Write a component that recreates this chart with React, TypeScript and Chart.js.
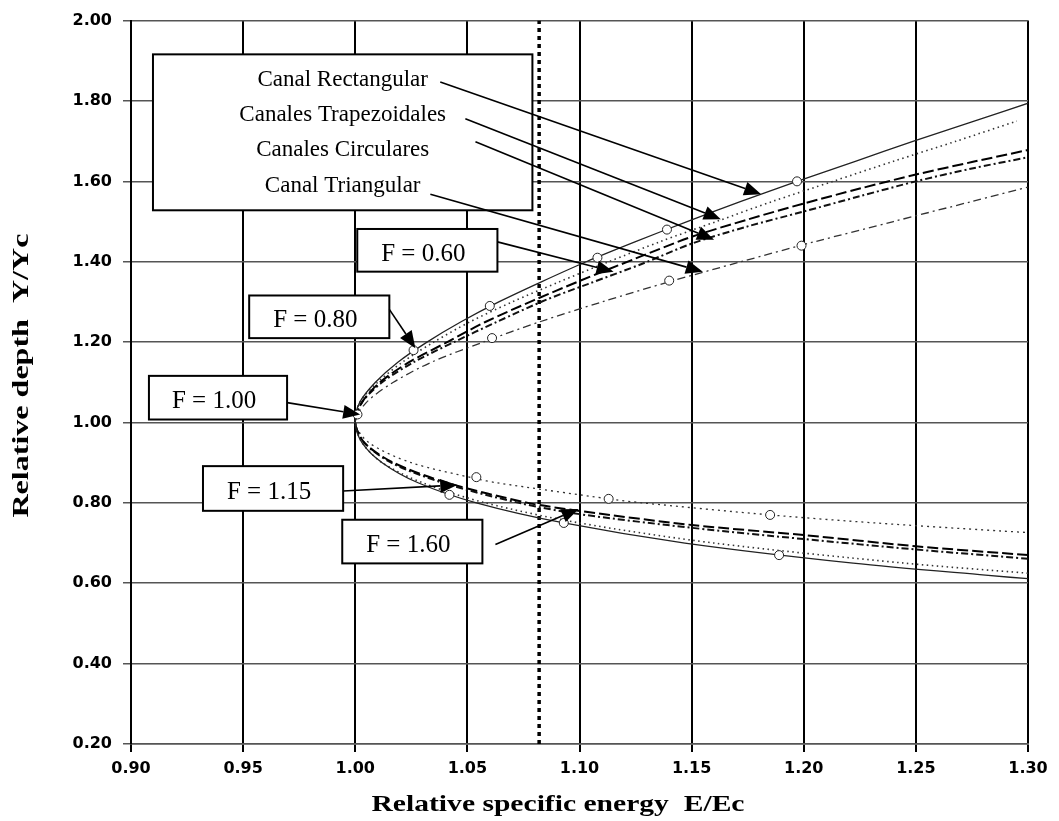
import React, { useEffect, useRef } from "react";
import { Chart, registerables } from "chart.js";

Chart.register(...registerables);

// ---------- axes ----------
const xTickValues = [0.9, 0.95, 1.0, 1.05, 1.1, 1.15, 1.2, 1.25, 1.3];
const yTickValues = [0.2, 0.4, 0.6, 0.8, 1.0, 1.2, 1.4, 1.6, 1.8, 2.0];
const xAxisTitle = "Relative specific energy  E/Ec";
const yAxisTitle = "Relative depth  Y/Yc";

// ---------- curves (E/Ec, Y/Yc) ----------
const rectangularCurve = [
  { x: 1.303, y: 0.61 }, { x: 1.281, y: 0.62 }, { x: 1.222, y: 0.65 }, { x: 1.147, y: 0.7 },
  { x: 1.093, y: 0.75 }, { x: 1.054, y: 0.8 }, { x: 1.028, y: 0.85 }, { x: 1.012, y: 0.9 },
  { x: 1.003, y: 0.95 }, { x: 1.0, y: 1.0 }, { x: 1.002, y: 1.05 }, { x: 1.009, y: 1.1 },
  { x: 1.019, y: 1.15 }, { x: 1.032, y: 1.2 }, { x: 1.047, y: 1.25 }, { x: 1.064, y: 1.3 },
  { x: 1.083, y: 1.35 }, { x: 1.103, y: 1.4 }, { x: 1.125, y: 1.45 }, { x: 1.148, y: 1.5 },
  { x: 1.172, y: 1.55 }, { x: 1.197, y: 1.6 }, { x: 1.223, y: 1.65 }, { x: 1.249, y: 1.7 },
  { x: 1.276, y: 1.75 }, { x: 1.303, y: 1.8 },
];
const rectangularMarkers = [
  { x: 1.197, y: 1.6 }, { x: 1.139, y: 1.48 }, { x: 1.108, y: 1.41 }, { x: 1.06, y: 1.29 },
  { x: 1.026, y: 1.18 }, { x: 1.001, y: 1.02 }, { x: 1.042, y: 0.82 }, { x: 1.093, y: 0.75 },
  { x: 1.189, y: 0.67 },
];
const trapezoidalCurve = [
  { x: 1.3, y: 0.625 }, { x: 1.245, y: 0.65 }, { x: 1.16, y: 0.7 }, { x: 1.1, y: 0.75 },
  { x: 1.058, y: 0.8 }, { x: 1.03, y: 0.85 }, { x: 1.012, y: 0.9 }, { x: 1.003, y: 0.95 },
  { x: 1.0, y: 1.0 }, { x: 1.002, y: 1.05 }, { x: 1.01, y: 1.1 }, { x: 1.021, y: 1.15 },
  { x: 1.035, y: 1.2 }, { x: 1.051, y: 1.25 }, { x: 1.07, y: 1.3 }, { x: 1.091, y: 1.35 },
  { x: 1.113, y: 1.4 }, { x: 1.136, y: 1.45 }, { x: 1.161, y: 1.5 }, { x: 1.186, y: 1.55 },
  { x: 1.213, y: 1.6 }, { x: 1.24, y: 1.65 }, { x: 1.268, y: 1.7 }, { x: 1.295, y: 1.75 },
];
const circularCurveA = [
  { x: 1.3, y: 0.67 }, { x: 1.25, y: 0.692 }, { x: 1.2, y: 0.72 }, { x: 1.15, y: 0.745 },
  { x: 1.1, y: 0.78 }, { x: 1.077, y: 0.8 }, { x: 1.041, y: 0.85 }, { x: 1.017, y: 0.9 },
  { x: 1.004, y: 0.95 }, { x: 1.0, y: 1.0 }, { x: 1.003, y: 1.05 }, { x: 1.011, y: 1.1 },
  { x: 1.024, y: 1.15 }, { x: 1.041, y: 1.2 }, { x: 1.058, y: 1.25 }, { x: 1.08, y: 1.305 },
  { x: 1.1, y: 1.352 }, { x: 1.125, y: 1.408 }, { x: 1.15, y: 1.462 }, { x: 1.175, y: 1.505 },
  { x: 1.2, y: 1.545 }, { x: 1.225, y: 1.582 }, { x: 1.25, y: 1.617 }, { x: 1.275, y: 1.648 },
  { x: 1.3, y: 1.678 },
];
const circularCurveB = [
  { x: 1.3, y: 0.661 }, { x: 1.25, y: 0.684 }, { x: 1.2, y: 0.71 }, { x: 1.15, y: 0.738 },
  { x: 1.1, y: 0.772 }, { x: 1.073, y: 0.8 }, { x: 1.039, y: 0.85 }, { x: 1.016, y: 0.9 },
  { x: 1.004, y: 0.95 }, { x: 1.0, y: 1.0 }, { x: 1.003, y: 1.05 }, { x: 1.012, y: 1.1 },
  { x: 1.026, y: 1.15 }, { x: 1.044, y: 1.2 }, { x: 1.063, y: 1.25 }, { x: 1.085, y: 1.305 },
  { x: 1.104, y: 1.345 }, { x: 1.128, y: 1.395 }, { x: 1.15, y: 1.445 }, { x: 1.175, y: 1.488 },
  { x: 1.2, y: 1.525 }, { x: 1.225, y: 1.563 }, { x: 1.25, y: 1.6 }, { x: 1.275, y: 1.632 },
  { x: 1.3, y: 1.66 },
];
const triangularCurve = [
  { x: 1.304, y: 0.725 }, { x: 1.288, y: 0.73 }, { x: 1.232, y: 0.75 }, { x: 1.185, y: 0.77 },
  { x: 1.128, y: 0.8 }, { x: 1.113, y: 0.81 }, { x: 1.063, y: 0.85 }, { x: 1.054, y: 0.86 },
  { x: 1.025, y: 0.9 }, { x: 1.006, y: 0.95 }, { x: 1.0, y: 1.0 }, { x: 1.005, y: 1.05 },
  { x: 1.017, y: 1.1 }, { x: 1.034, y: 1.15 }, { x: 1.057, y: 1.2 }, { x: 1.082, y: 1.25 },
  { x: 1.11, y: 1.3 }, { x: 1.14, y: 1.35 }, { x: 1.172, y: 1.4 }, { x: 1.205, y: 1.45 },
  { x: 1.24, y: 1.5 }, { x: 1.275, y: 1.55 }, { x: 1.303, y: 1.59 },
];
const triangularMarkers = [
  { x: 1.199, y: 1.44 }, { x: 1.14, y: 1.353 }, { x: 1.061, y: 1.21 }, { x: 1.054, y: 0.864 },
  { x: 1.113, y: 0.81 }, { x: 1.185, y: 0.77 },
];
const referenceLineX = 1.082;

// ---------- legend box (data coordinates) ----------
const legendLabels = ["Canal Rectangular", "Canales Trapezoidales", "Canales Circulares", "Canal Triangular"];
const legendRowY = [1.852, 1.765, 1.677, 1.588];
const legendArrowStarts = [
  { x: 1.0379, y: 1.847 }, { x: 1.0491, y: 1.7556 }, { x: 1.0536, y: 1.6988 }, { x: 1.0335, y: 1.568 },
];
const legendArrowTips = [
  { x: 1.181, y: 1.568 }, { x: 1.163, y: 1.506 }, { x: 1.16, y: 1.455 }, { x: 1.155, y: 1.375 },
];

// ---------- Froude number call-outs (data coordinates) ----------
const froudeLabels = ["F = 0.60", "F = 0.80", "F = 1.00", "F = 1.15", "F = 1.60"];
const froudeBoxX1 = [1.0009, 0.9527, 0.908, 0.9321, 0.9942];
const froudeBoxX2 = [1.0634, 1.0152, 0.9696, 0.9946, 1.0567];
const froudeBoxYTop = [1.4815, 1.316, 1.116, 0.8914, 0.758];
const froudeBoxYBottom = [1.3753, 1.2099, 1.0074, 0.7802, 0.6494];
const froudeArrowStarts = [
  { x: 1.0634, y: 1.4494 }, { x: 1.0152, y: 1.2815 }, { x: 0.9696, y: 1.0494 },
  { x: 0.9946, y: 0.8296 }, { x: 1.0625, y: 0.6963 },
];
const froudeArrowTips = [
  { x: 1.1152, y: 1.3753 }, { x: 1.0268, y: 1.185 }, { x: 1.0022, y: 1.0198 },
  { x: 1.0455, y: 0.8444 }, { x: 1.0996, y: 0.785 },
];
const legendBoxCorners = [{ x: 0.9098, y: 1.916 }, { x: 1.079, y: 1.528 }];

function drawArrow(ctx: CanvasRenderingContext2D, x0: number, y0: number, x1: number, y1: number) {
  const ang = Math.atan2(y1 - y0, x1 - x0);
  const len = 17;
  const half = 7;
  const bx = x1 - Math.cos(ang) * len;
  const by = y1 - Math.sin(ang) * len;
  ctx.save();
  ctx.strokeStyle = "#000";
  ctx.lineWidth = 1.6;
  ctx.beginPath();
  ctx.moveTo(x0, y0);
  ctx.lineTo(bx, by);
  ctx.stroke();
  ctx.fillStyle = "#000";
  ctx.beginPath();
  ctx.moveTo(x1, y1);
  ctx.lineTo(bx - Math.sin(ang) * half, by + Math.cos(ang) * half);
  ctx.lineTo(bx + Math.sin(ang) * half, by - Math.cos(ang) * half);
  ctx.closePath();
  ctx.fill();
  ctx.restore();
}

function drawStretchedText(
  ctx: CanvasRenderingContext2D, text: string, cx: number, cy: number, targetWidth: number, rotate: boolean
) {
  ctx.save();
  ctx.translate(cx, cy);
  if (rotate) ctx.rotate(-Math.PI / 2);
  const w = ctx.measureText(text).width;
  ctx.scale(targetWidth / w, 1);
  ctx.textAlign = "center";
  ctx.textBaseline = "middle";
  ctx.fillText(text, 0, 0);
  ctx.restore();
}

const annotationPlugin = {
  id: "annotations",
  afterDatasetsDraw(chart: any) {
    const ctx: CanvasRenderingContext2D = chart.ctx;
    const xs = chart.scales.x;
    const ys = chart.scales.y;
    const px = (v: number) => xs.getPixelForValue(v);
    const py = (v: number) => ys.getPixelForValue(v);

    // legend box
    const lx1 = px(legendBoxCorners[0].x);
    const ly1 = py(legendBoxCorners[0].y);
    const lx2 = px(legendBoxCorners[1].x);
    const ly2 = py(legendBoxCorners[1].y);
    ctx.save();
    ctx.fillStyle = "#fff";
    ctx.fillRect(lx1, ly1, lx2 - lx1, ly2 - ly1);
    ctx.strokeStyle = "#000";
    ctx.lineWidth = 2;
    ctx.strokeRect(lx1, ly1, lx2 - lx1, ly2 - ly1);
    ctx.fillStyle = "#000";
    ctx.font = "23px 'Liberation Serif', 'Times New Roman', serif";
    ctx.textAlign = "center";
    ctx.textBaseline = "middle";
    legendLabels.forEach((t, i) => ctx.fillText(t, (lx1 + lx2) / 2, py(legendRowY[i])));
    ctx.restore();
    legendLabels.forEach((_, i) => {
      drawArrow(ctx, px(legendArrowStarts[i].x), py(legendArrowStarts[i].y), px(legendArrowTips[i].x), py(legendArrowTips[i].y));
    });

    // Froude boxes
    froudeLabels.forEach((t, i) => {
      const x1 = px(froudeBoxX1[i]);
      const x2 = px(froudeBoxX2[i]);
      const y1 = py(froudeBoxYTop[i]);
      const y2 = py(froudeBoxYBottom[i]);
      ctx.save();
      ctx.fillStyle = "#fff";
      ctx.fillRect(x1, y1, x2 - x1, y2 - y1);
      ctx.strokeStyle = "#000";
      ctx.lineWidth = 2;
      ctx.strokeRect(x1, y1, x2 - x1, y2 - y1);
      ctx.fillStyle = "#000";
      ctx.font = "25px 'Liberation Serif', 'Times New Roman', serif";
      ctx.textAlign = "center";
      ctx.textBaseline = "middle";
      ctx.fillText(t, (x1 + x2) / 2 - 4, (y1 + y2) / 2 + 4);
      ctx.restore();
      drawArrow(ctx, px(froudeArrowStarts[i].x), py(froudeArrowStarts[i].y), px(froudeArrowTips[i].x), py(froudeArrowTips[i].y));
    });

    // axis titles
    const area = chart.chartArea;
    ctx.save();
    ctx.fillStyle = "#000";
    ctx.font = "bold 24px 'Liberation Serif', 'Times New Roman', serif";
    drawStretchedText(ctx, xAxisTitle, area.left + 427, area.bottom + 61, 373, false);
    drawStretchedText(ctx, yAxisTitle, 22, area.top + 355, 284, true);
    ctx.restore();
  },
};

export default function App() {
  const canvasRef = useRef<HTMLCanvasElement | null>(null);

  useEffect(() => {
    if (!canvasRef.current) return;
    const curveBase = { showLine: true, pointRadius: 0, tension: 0.3, fill: false };
    const markerBase = {
      showLine: false,
      pointRadius: 4.5,
      pointStyle: "circle",
      pointBackgroundColor: "#fff",
      pointBorderColor: "#222",
      pointBorderWidth: 1,
    };
    const tickFont = { family: "'DejaVu Sans', sans-serif", weight: "bold", size: 16 };
    const chart = new Chart(canvasRef.current, {
      type: "scatter",
      data: {
        datasets: [
          { label: "Rect markers", data: rectangularMarkers, ...markerBase } as any,
          { label: "Tri markers", data: triangularMarkers, ...markerBase } as any,
          {
            label: "Canal Rectangular", data: rectangularCurve, ...curveBase,
            borderColor: "#222", borderWidth: 1.3,
          },
          {
            label: "Canales Trapezoidales", data: trapezoidalCurve, ...curveBase,
            borderColor: "#333", borderWidth: 1.6, borderDash: [1.5, 3.5],
          },
          {
            label: "Canales Circulares A", data: circularCurveA, ...curveBase,
            borderColor: "#000", borderWidth: 2, borderDash: [11, 4],
          },
          {
            label: "Canales Circulares B", data: circularCurveB, ...curveBase,
            borderColor: "#111", borderWidth: 2, borderDash: [7, 3, 2, 3],
          },
          {
            label: "Canal Triangular", data: triangularCurve, ...curveBase,
            borderColor: "#333", borderWidth: 1.3,
            segment: {
              borderDash: (c: any) => (c.p0.parsed.y < 1 ? [2, 4] : [8, 4, 2, 4]),
            },
          } as any,
          {
            label: "Reference", data: [{ x: referenceLineX, y: 0.2 }, { x: referenceLineX, y: 2.0 }],
            showLine: true, pointRadius: 0, borderColor: "#000", borderWidth: 3.5, borderDash: [4, 4],
          },
        ],
      },
      options: {
        responsive: false,
        animation: false,
        layout: { padding: { top: 15, right: 31, left: 0, bottom: 0 } },
        plugins: { legend: { display: false }, tooltip: { enabled: false } },
        scales: {
          x: {
            type: "linear",
            min: 0.9,
            max: 1.3,
            afterBuildTicks: (s: any) => { s.ticks = xTickValues.map((v) => ({ value: v })); },
            afterFit: (s: any) => { s.height = 77; },
            ticks: {
              callback: (v: any) => Number(v).toFixed(2),
              font: tickFont,
              color: "#000",
              padding: 7,
              maxRotation: 0,
              autoSkip: false,
            },
            grid: { color: "#000", lineWidth: 2, tickLength: 8, tickColor: "#000", tickWidth: 2 },
            border: { color: "#555", width: 1.5 },
          },
          y: {
            type: "linear",
            min: 0.2,
            max: 2.0,
            afterBuildTicks: (s: any) => { s.ticks = yTickValues.map((v) => ({ value: v })); },
            afterFit: (s: any) => { s.width = 131; },
            ticks: {
              callback: (v: any) => Number(v).toFixed(2),
              font: tickFont,
              color: "#000",
              padding: 11,
              autoSkip: false,
            },
            grid: { color: "#555", lineWidth: 1.5, tickLength: 8, tickColor: "#555" },
            border: { color: "#000", width: 2 },
          },
        },
      } as any,
      plugins: [annotationPlugin],
    });
    return () => chart.destroy();
  }, []);

  return (
    <div style={{ position: "absolute", left: 0, top: 0, width: 1059, height: 821, background: "#fff" }}>
      <canvas ref={canvasRef} width={1059} height={821} style={{ display: "block", width: 1059, height: 821 }} />
    </div>
  );
}
